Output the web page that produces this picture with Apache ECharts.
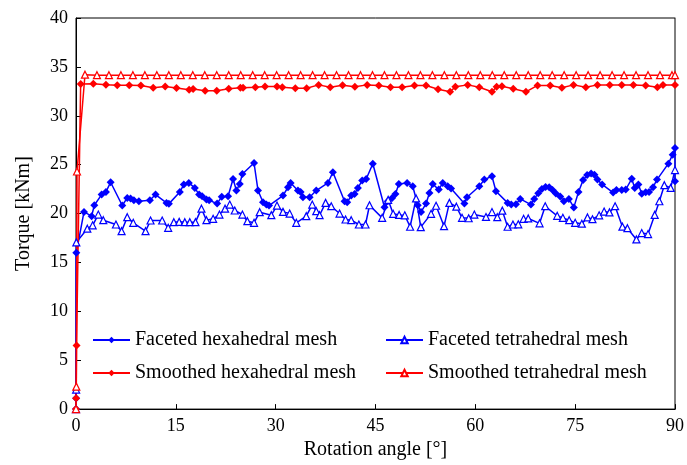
<!DOCTYPE html>
<html>
<head>
<meta charset="utf-8">
<script src="https://cdn.jsdelivr.net/npm/echarts@6/dist/echarts.min.js"></script>
<style>
  html, body { margin: 0; padding: 0; background: #fff; }
  #chart { width: 687px; height: 465px; }
</style>
</head>
<body>
<div id="chart"></div>
<script>
// Torque vs rotation angle for four mesh variants: [angle in degrees, torque in kNm]
const facetedHex = [
  [0,0],[0.02,1.1],[0.05,16.0],[1.2,20.17],[2.35,19.73],[2.75,20.85],[3.85,21.94],[4.5,22.21],[5.2,23.2],
  [6.95,20.82],[7.7,21.6],[8.2,21.53],[8.7,21.36],[9.45,21.26],[11.1,21.36],[11.95,21.94],[13.6,21.09],
  [13.95,20.99],[15.6,22.21],[16.2,22.96],[16.95,23.13],[17.85,22.62],[18.5,21.94],[18.95,21.77],[19.6,21.43],
  [20.0,21.36],[21.2,21.02],[21.9,21.73],[22.85,21.77],[23.6,23.54],[24.1,22.35],[24.6,23.03],[25.0,24.05],
  [26.75,25.17],[27.35,22.35],[28.1,21.15],[28.6,20.92],[29.0,20.82],[31.1,21.84],[31.85,22.69],[32.25,23.13],
  [33.35,22.35],[33.75,22.21],[34.1,21.67],[35.1,21.67],[36.1,22.35],[37.85,23.13],[38.6,24.22],[40.35,21.26],
  [40.75,21.15],[41.35,21.84],[41.85,22.01],[42.35,22.62],[43.0,23.37],[43.6,23.54],[44.6,25.1],[46.35,20.65],
  [46.85,21.26],[47.5,21.6],[48.0,22.01],[48.5,23.03],[49.75,23.13],[50.6,22.79],[51.35,20.85],[51.85,20.17],
  [52.6,21.02],[53.1,22.11],[53.6,23.03],[54.5,22.45],[55.1,23.13],[55.85,22.79],[56.35,22.55],[58.35,21.02],
  [58.75,21.67],[60.6,22.79],[61.35,23.47],[62.5,23.81],[63.1,22.28],[64.85,21.09],[65.4,20.92],[66.1,20.95],
  [66.75,21.5],[68.35,20.92],[68.85,21.5],[69.45,22.07],[70.0,22.52],[70.55,22.72],[71.1,22.7],[71.6,22.4],
  [72.1,22.05],[72.75,21.75],[73.3,21.26],[74.05,21.5],[74.8,20.63],[75.5,22.2],[76.2,23.43],[76.8,23.93],
  [77.4,24.1],[77.9,23.98],[78.35,23.47],[79.05,22.98],[80.7,22.15],[81.2,22.4],[82.0,22.4],[82.6,22.46],
  [83.5,23.55],[83.95,22.62],[84.5,22.96],[85.0,22.02],[85.6,22.18],[86.1,22.2],[86.7,22.7],[87.3,23.47],
  [89.0,25.1],[89.65,26.02],[90,26.7],[90,23.3]
];

const facetedTetra = [
  [0,0],[0.02,2.0],[0.05,17.05],[1.7,18.45],[2.5,18.8],[3.35,19.9],[4.1,19.32],[6.0,18.88],[6.85,18.2],
  [7.7,19.63],[8.6,19.05],[10.45,18.2],[11.2,19.29],[12.95,19.29],[13.85,18.54],[14.7,19.12],[15.5,19.15],
  [16.35,19.12],[17.1,19.12],[17.95,19.12],[18.85,20.5],[19.6,19.32],[20.6,19.46],[21.55,19.9],[22.4,20.5],
  [23.1,20.92],[23.85,20.31],[25.0,19.9],[25.75,19.22],[26.75,19.05],[27.6,20.14],[29.35,19.83],[30.2,20.82],
  [31.1,20.17],[32.1,20.0],[33.1,19.05],[34.6,19.73],[35.5,20.92],[36.1,20.24],[36.6,19.83],[37.5,21.09],
  [38.35,20.75],[39.6,20.0],[40.5,19.39],[41.35,19.32],[42.5,18.88],[43.5,18.88],[44.1,20.85],[46.0,19.56],
  [46.9,21.4],[47.65,19.97],[48.55,19.86],[49.4,19.82],[50.2,18.65],[51.1,21.55],[51.8,18.61],[53.35,19.97],
  [54.1,20.8],[55.3,18.71],[56.1,21.09],[57.15,20.7],[58.0,19.56],[59.0,19.52],[59.85,19.9],[61.6,19.65],
  [62.5,20.15],[63.3,19.63],[64.05,20.3],[64.85,18.65],[65.65,18.88],[66.45,18.9],[67.25,19.46],[67.95,19.5],
  [69.65,19.0],[70.5,20.75],[72.3,19.77],[73.15,19.56],[74.1,19.32],[75.0,19.05],[76.0,18.96],[76.85,19.6],
  [77.6,19.42],[78.6,19.82],[79.35,20.2],[80.15,20.12],[81.0,20.75],[82.1,18.66],[82.85,18.5],[84.2,17.35],
  [85.0,18.0],[85.95,17.9],[86.95,19.86],[87.65,21.26],[88.4,22.9],[89.35,22.62],[90,24.45]
];

const smoothedHex = [
  [0,0],[0.02,1.1],[0.08,6.5],[0.7,33.25],[2.6,33.27],[4.5,33.17],[6.2,33.13],[8.0,33.13],[9.75,33.1],
  [11.6,32.86],[13.4,33.0],[15.1,32.83],[17.0,32.65],[17.6,32.75],[19.4,32.55],[21.15,32.57],[22.95,32.76],
  [24.7,32.86],[25.1,32.86],[26.95,32.92],[28.4,33.0],[30.2,33.0],[31.0,32.92],[32.95,32.82],[34.65,32.82],
  [36.45,33.16],[38.2,32.92],[40.05,33.12],[41.9,32.96],[43.75,33.16],[45.5,33.1],[47.25,32.92],[49.0,32.92],
  [50.85,33.1],[52.6,33.1],[54.4,32.72],[56.2,32.45],[57.0,32.96],[58.85,33.16],[60.6,32.92],[62.5,32.45],
  [63.2,32.96],[64.0,33.03],[65.7,32.76],[67.6,32.45],[69.35,33.1],[71.25,33.1],[73.0,32.86],[74.75,33.16],
  [76.6,32.92],[78.35,33.16],[80.2,33.16],[82.0,33.16],[83.75,33.16],[85.6,33.1],[87.35,32.92],[88.2,33.16],
  [90,33.16]
];

const smoothedTetra = [
  [0,0],[0.05,2.3],[0.15,24.3],[1.35,34.2],[3.15,34.15],[4.95,34.15],[6.75,34.15],[8.55,34.15],[10.35,34.15],
  [12.15,34.15],[13.95,34.15],[15.75,34.15],[17.55,34.15],[19.35,34.15],[21.15,34.15],[22.95,34.15],
  [24.75,34.15],[26.55,34.15],[28.35,34.15],[30.15,34.15],[31.95,34.15],[33.75,34.15],[35.55,34.15],
  [37.35,34.15],[39.15,34.15],[40.95,34.15],[42.75,34.15],[44.55,34.15],[46.35,34.15],[48.15,34.15],
  [49.95,34.15],[51.75,34.15],[53.55,34.15],[55.35,34.15],[57.15,34.15],[58.95,34.15],[60.75,34.15],
  [62.55,34.15],[64.35,34.15],[66.15,34.15],[67.95,34.15],[69.75,34.15],[71.55,34.15],[73.35,34.15],
  [75.15,34.15],[76.95,34.15],[78.75,34.15],[80.55,34.15],[82.35,34.15],[84.15,34.15],[85.95,34.15],
  [87.75,34.15],[89.55,34.15],[90,34.15]
];

const seriesNames = [
  'Faceted hexahedral mesh',
  'Faceted tetrahedral mesh',
  'Smoothed hexahedral mesh',
  'Smoothed tetrahedral mesh'
];

const BLUE = '#0000ff';
const RED = '#ff0000';
const FONT = '"Liberation Serif", "Times New Roman", serif';

function hexSeries(name, data, color) {
  return {
    name, type: 'line', data,
    showAllSymbol: true,
    symbol: 'diamond', symbolSize: 8,
    lineStyle: { color, width: 1.5 },
    itemStyle: { color, borderWidth: 0 },
    emphasis: { disabled: true }
  };
}
function tetraSeries(name, data, color) {
  return {
    name, type: 'line', data,
    showAllSymbol: true,
    symbol: 'triangle', symbolSize: 7,
    lineStyle: { color, width: 1.5 },
    itemStyle: { color: '#ffffff', borderColor: color, borderWidth: 1.2 },
    emphasis: { disabled: true }
  };
}

const chart = echarts.init(document.getElementById('chart'), null, { renderer: 'canvas' });

const legendCommon = {
  orient: 'vertical',
  top: 325,
  itemWidth: 37,
  itemHeight: 8,
  itemGap: 13,
  textStyle: { fontFamily: FONT, fontSize: 20, color: '#000', lineHeight: 20 },
  selectedMode: false
};

chart.setOption({
  animation: false,
  backgroundColor: '#fff',
  grid: { left: 76, right: 11, top: 18, bottom: 55, show: true, borderColor: '#000', borderWidth: 1 },
  legend: [
    Object.assign({ left: 87, data: [seriesNames[0], seriesNames[2]] }, legendCommon),
    Object.assign({ left: 380, data: [seriesNames[1], seriesNames[3]] }, legendCommon)
  ],
  xAxis: [{
    type: 'value', min: 0, max: 90, interval: 15,
    name: 'Rotation angle [°]', nameLocation: 'middle', nameGap: 27,
    nameTextStyle: { fontFamily: FONT, fontSize: 20, color: '#000' },
    axisLine: { lineStyle: { color: '#000', width: 1 } },
    axisTick: { inside: true, length: 5, lineStyle: { color: '#000' } },
    axisLabel: { fontFamily: FONT, fontSize: 18, color: '#000', margin: 8 },
    splitLine: { show: false }
  }],
  yAxis: [{
    type: 'value', min: 0, max: 40, interval: 5,
    name: 'Torque [kNm]', nameLocation: 'middle', nameGap: 42,
    nameTextStyle: { fontFamily: FONT, fontSize: 20, color: '#000' },
    axisLine: { lineStyle: { color: '#000', width: 1 } },
    axisTick: { inside: true, length: 5, lineStyle: { color: '#000' } },
    axisLabel: { fontFamily: FONT, fontSize: 18, color: '#000', margin: 8 },
    splitLine: { show: false }
  }, {
    type: 'value', min: 0, max: 40, position: 'right',
    axisLine: { show: true, lineStyle: { color: '#7f7f7f', width: 1 } },
    axisTick: { show: false }, axisLabel: { show: false }, splitLine: { show: false }
  }],
  series: [
    hexSeries(seriesNames[0], facetedHex, BLUE),
    tetraSeries(seriesNames[1], facetedTetra, BLUE),
    hexSeries(seriesNames[2], smoothedHex, RED),
    tetraSeries(seriesNames[3], smoothedTetra, RED)
  ]
});
</script>
</body>
</html>
